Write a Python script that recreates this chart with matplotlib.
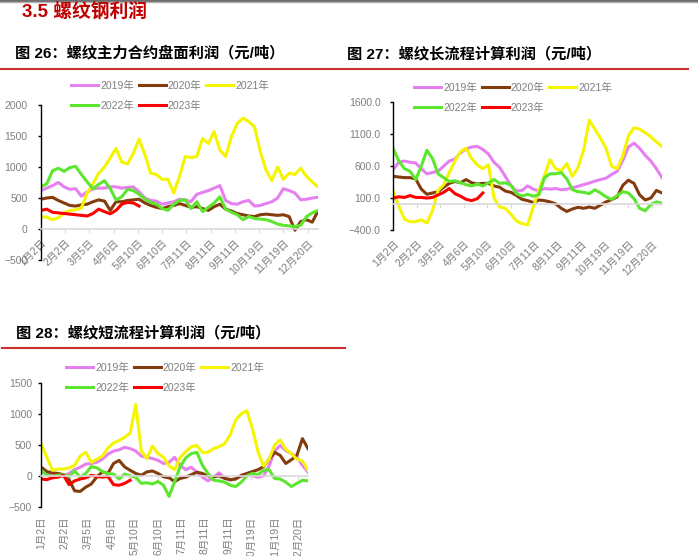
import numpy as np
import matplotlib
matplotlib.use("Agg")
import matplotlib.pyplot as plt
from matplotlib.lines import Line2D

plt.rcParams["font.family"] = ["Liberation Sans", "Noto Sans CJK SC", "DejaVu Sans"]
plt.rcParams["axes.unicode_minus"] = True

W, H = 698, 556
GREY = "#7f7f7f"

# ── DATA ──────────────────────────────────────────────────────────────────────
YEARS = ["2019年", "2020年", "2021年", "2022年", "2023年"]
COLORS = ["#e680f0", "#843c0c", "#f5f500", "#5ce62e", "#ff0000"]

TICK_DAYS = [0, 21, 42, 63, 84, 105, 126, 147, 168, 189, 210, 231]
TICK_LABELS = ["1月2日", "2月2日", "3月5日", "4月6日", "5月10日", "6月10日",
               "7月11日", "8月11日", "9月11日", "10月19日", "11月19日", "12月20日"]
STEP = 5  # one sample every 5 trading days

# 图26 螺纹主力合约盘面利润
c1_2019 = [620, 660, 700, 750, 680, 640, 650, 530, 600, 650, 660, 660, 680, 680, 660, 670, 680,
           600, 500, 460, 450, 400, 420, 440, 480, 470, 440, 560, 590, 620, 660, 700, 460, 410,
           400, 440, 460, 370, 380, 410, 440, 500, 650, 620, 580, 470, 480, 500, 510]
c1_2020 = [480, 500, 510, 460, 420, 380, 370, 390, 400, 440, 470, 450, 300, 440, 440, 460, 470,
           480, 420, 380, 350, 330, 360, 380, 410, 380, 350, 360, 330, 300, 360, 400, 320, 290,
           250, 230, 210, 200, 230, 240, 230, 220, 230, 200, -20, 120, 150, 110, 290]
c1_2021 = [200, 190, 150, 180, 260, 300, 310, 340, 580, 730, 900, 1000, 1150, 1300, 1080, 1050,
           1220, 1450, 1200, 900, 880, 800, 800, 580, 850, 1170, 1150, 1170, 1460, 1380, 1570,
           1275, 1170, 1490, 1700, 1790, 1730, 1650, 1250, 950, 780, 1000, 800, 900, 880, 980,
           850, 760, 680]
c1_2022 = [680, 730, 940, 980, 930, 990, 1010, 880, 760, 650, 720, 780, 650, 470, 520, 640, 620,
           560, 480, 430, 400, 330, 300, 400, 460, 470, 330, 440, 280, 350, 420, 520, 320, 270,
           230, 150, 200, 170, 160, 150, 120, 80, 60, 50, 40, 60, 200, 260, 300]
c1_2023 = [300, 320, 270, 260, 250, 240, 230, 220, 210, 250, 320, 280, 245, 300, 400, 430, 420, 370]

# 图27 螺纹长流程计算利润
c2_2019 = [550, 660, 680, 660, 650, 560, 480, 500, 520, 600, 680, 710, 810, 870, 900, 910, 860,
           790, 660, 580, 440, 300, 210, 220, 290, 240, 210, 250, 240, 250, 230, 240, 260, 285,
           310, 335, 365, 390, 410, 470, 520, 690, 900, 960, 880, 770, 680, 560, 420]
c2_2020 = [440, 430, 420, 420, 400, 240, 160, 180, 200, 270, 330, 360, 340, 390, 340, 320, 330,
           330, 290, 270, 210, 190, 140, 80, 60, 30, 70, 60, 40, 10, -60, -110, -70, -45, -60,
           -40, -60, -10, 40, 75, 120, 300, 380, 330, 150, 70, 100, 220, 180]
c2_2021 = [200, -30, -230, -270, -270, -240, -290, -100, 220, 310, 500, 680, 830, 880, 720, 620,
           560, 620, 100, -40, -60, -150, -260, -300, -320, -40, 220, 450, 700, 560, 530, 640,
           440, 580, 850, 1320, 1180, 1040, 880, 600, 560, 760, 1075, 1200, 1180, 1125, 1060,
           980, 910]
c2_2022 = [870, 680, 560, 520, 390, 600, 850, 720, 480, 420, 360, 370, 340, 310, 290, 320, 290,
           340, 390, 330, 340, 300, 170, 130, 160, 130, 150, 420, 480, 480, 500, 400, 230, 200,
           190, 170, 230, 180, 120, 80, 140, 200, 180, 90, -60, -100, 0, 40, 20]
c2_2023 = [100, 120, 110, 140, 110, 110, 100, 110, 150, 190, 250, 170, 130, 80, 60, 90, 180]

# 图28 螺纹短流程计算利润
c3_2019 = [110, 50, 0, 20, 0, 40, 100, 140, 190, 200, 220, 270, 350, 400, 420, 460, 440, 400,
           320, 300, 280, 250, 200, 220, 300, 170, 100, 140, 60, -20, -80, -20, 50, -30, -70,
           -40, -10, 20, 0, -20, 0, 160, 400, 490, 410, 360, 300, 170, 60]
c3_2020 = [140, 70, 50, 40, 20, -60, -240, -250, -180, -130, -15, 65, 40, 200, 250, 145, 90, 40,
           10, 65, 80, 40, -15, -30, -90, -40, -20, 20, 60, 40, 0, -15, 0, -40, -60, -50, 10,
           40, 70, 100, 150, 270, 380, 330, 200, 260, 330, 600, 440]
c3_2021 = [505, 300, 90, 110, 110, 130, 170, 320, 380, 220, 270, 320, 450, 530, 570, 620, 690,
           1150, 400, 280, 480, 360, 300, 160, 100, 300, 390, 470, 490, 380, 380, 440, 470, 520,
           660, 900, 1000, 1050, 760, 390, 160, 270, 500, 580, 430, 360, 270, 240, 90]
c3_2022 = [90, 10, -10, 10, 20, -10, 80, -20, 40, 150, 130, 70, 40, 30, -50, 30, 0, -20, -120,
           -110, -130, -90, -150, -330, -90, 150, 290, 360, 380, 170, 40, -70, -80, -100, -150,
           -170, -100, 0, 40, 20, 90, 100, -40, -50, -100, -170, -120, -70, -80]
c3_2023 = [-50, -60, -30, -20, 10, -140, -80, -50, -30, 10, -10, -20, -10, -140, -150, -120, -70]

fig = plt.figure(figsize=(W / 100, H / 100), dpi=100)


def px_rect(left, top, right, bottom):
    return [left / W, 1 - bottom / H, (right - left) / W, (bottom - top) / H]


def draw_panel(rect, series, ylim, yticks, ylabels, ypad, legend_xy, label_mode):
    ax = fig.add_axes(px_rect(*rect))
    for name, vals, color in zip(YEARS, series, COLORS):
        x = np.arange(len(vals)) * STEP
        ax.plot(x, vals, color=color, lw=2.2, label=name, solid_joinstyle="round")
    ax.set_xlim(0, STEP * (len(series[0]) - 1))
    ax.set_ylim(*ylim)
    ax.set_yticks(yticks)
    ax.set_yticklabels(ylabels)
    for s in ("top", "right"):
        ax.spines[s].set_visible(False)
    ax.spines["left"].set_color("black")
    ax.spines["left"].set_linewidth(1.0)
    ax.spines["bottom"].set_position(("data", 0))
    ax.spines["bottom"].set_color("#d9d9d9")
    ax.spines["bottom"].set_linewidth(1.2)
    ax.tick_params(axis="y", direction="out", length=2.2, width=1, color="black",
                   labelcolor=GREY, labelsize=7.5, pad=ypad)
    ax.set_xticks(TICK_DAYS)
    ax.tick_params(axis="x", direction="out", length=2.9, width=0.8, color="#d9d9d9",
                   labelcolor=GREY, labelsize=7.5, pad=3.6)
    if label_mode == "axis":
        ax.set_xticklabels(TICK_LABELS, rotation=45, ha="right", va="top",
                           rotation_mode="anchor")
    else:
        ax.tick_params(axis="x", labelbottom=False)
        sec = ax.secondary_xaxis(0)
        sec.spines["bottom"].set_visible(False)
        sec.set_xticks(TICK_DAYS)
        if label_mode == "low45":
            sec.set_xticklabels(TICK_LABELS, rotation=45, ha="right", va="top",
                                rotation_mode="anchor")
            sec.tick_params(axis="x", length=0, pad=6.5, labelcolor=GREY, labelsize=7.5)
        else:
            sec.set_xticklabels(TICK_LABELS, rotation=90, ha="center", va="top")
            sec.tick_params(axis="x", length=0, pad=7, labelcolor=GREY, labelsize=7.5)

    lines = ax.get_lines()
    order = [0, 3, 1, 4, 2]   # fill columns so rows read 2019-2021 / 2022-2023
    lx, ly = legend_xy
    ax.legend([lines[i] for i in order], [YEARS[i] for i in order], ncol=3,
              loc="upper left", bbox_to_anchor=(lx / W, 1 - ly / H),
              bbox_transform=fig.transFigure, frameon=False, fontsize=7.5,
              handlelength=2.6, handletextpad=0.2, columnspacing=0.45,
              labelspacing=0.95, borderpad=0, borderaxespad=0, labelcolor=GREY)
    return ax


draw_panel((41, 105, 318, 260), [c1_2019, c1_2020, c1_2021, c1_2022, c1_2023],
           (-500, 2000), [-500, 0, 500, 1000, 1500, 2000],
           ["\u2212500", "0", "500", "1000", "1500", "2000"], 7.5, (71, 81), "axis")

draw_panel((393.3, 102.3, 662, 230), [c2_2019, c2_2020, c2_2021, c2_2022, c2_2023],
           (-400, 1600), [-400, 100, 600, 1100, 1600],
           ["\u2212400.0", "100.0", "600.0", "1100.0", "1600.0"], 7, (414, 83), "low45")

draw_panel((41.3, 382.7, 308, 507), [c3_2019, c3_2020, c3_2021, c3_2022, c3_2023],
           (-500, 1500), [-500, 0, 500, 1000, 1500],
           ["\u2212500", "0", "500", "1000", "1500"], 4.5, (66, 363), "low90")

# ── PAGE DECORATION ───────────────────────────────────────────────────────────
fig.add_artist(Line2D([0, 1], [1 - 0.8 / H, 1 - 0.8 / H], transform=fig.transFigure,
                      color="#505050", lw=1.2))
fig.add_artist(Line2D([0, 1], [1 - 2.2 / H, 1 - 2.2 / H], transform=fig.transFigure,
                      color="#b0b0b0", lw=1.0))

fig.text(22 / W, 1 - 12 / H, "3.5 螺纹钢利润", color="#c00000", fontsize=13.5,
         fontweight="bold", va="center", ha="left")

fig.text(15 / W, 1 - 53 / H, "图 26：螺纹主力合约盘面利润（元/吨）", fontsize=11,
         fontweight="bold", va="center", ha="left")
fig.text(347 / W, 1 - 54 / H, "图 27：螺纹长流程计算利润（元/吨）", fontsize=11,
         fontweight="bold", va="center", ha="left")
fig.text(16 / W, 1 - 333 / H, "图 28：螺纹短流程计算利润（元/吨）", fontsize=11,
         fontweight="bold", va="center", ha="left")

fig.add_artist(Line2D([0, 688 / W], [1 - 68.7 / H, 1 - 68.7 / H], transform=fig.transFigure,
                      color="#c9302c", lw=1.5))
fig.add_artist(Line2D([2 / W, 345 / W], [1 - 348.3 / H, 1 - 348.3 / H],
                      transform=fig.transFigure, color="#c9302c", lw=1.5))

fig.savefig("out.png", dpi=100)
